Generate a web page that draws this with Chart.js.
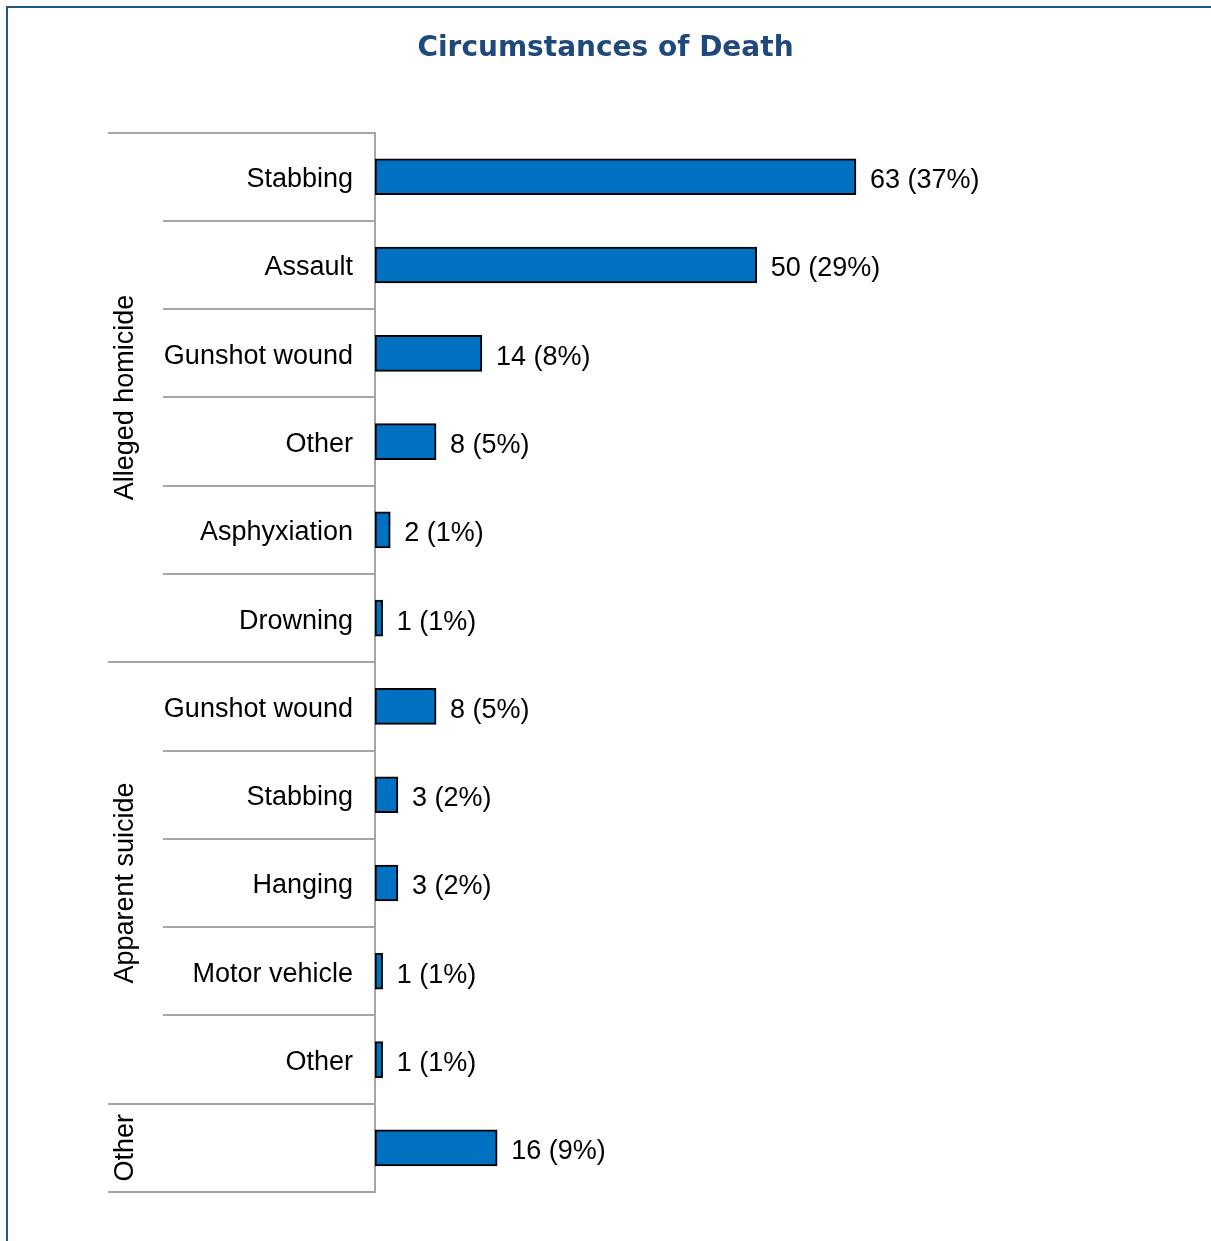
<!DOCTYPE html>
<html>
<head>
<meta charset="utf-8">
<script src="https://cdn.jsdelivr.net/npm/chart.js@4.4.1/dist/chart.umd.min.js"></script>
<style>
  html, body { margin: 0; padding: 0; background: #fff; }
  #frame { position: absolute; left: 6px; top: 6px; width: 1300px; height: 1300px; border-top: 2px solid #1d5a7e; border-left: 2px solid #1d5a7e; }
  #wrap { position: absolute; left: 0; top: 0; width: 1211px; height: 1241px; }
</style>
</head>
<body>
<div id="frame"></div>
<div id="wrap"><canvas id="chart"></canvas></div>
<script>
const categories = ['Stabbing', 'Assault', 'Gunshot wound', 'Other', 'Asphyxiation', 'Drowning',
                    'Gunshot wound', 'Stabbing', 'Hanging', 'Motor vehicle', 'Other', ''];
const counts = [63, 50, 14, 8, 2, 1, 8, 3, 3, 1, 1, 16];
const percents = [37, 29, 8, 5, 1, 1, 5, 2, 2, 1, 1, 9];
const groupNames = ['Alleged homicide', 'Apparent suicide', 'Other'];
const groupSizes = [6, 5, 1];

const labelFont = '27px "Liberation Sans", Arial, sans-serif';

// left-side category separators + rotated group names
const groupPlugin = {
    id: 'groups',
    afterDraw(chart) {
        const { ctx, chartArea } = chart;
        const y = chart.scales.y;
        const half = (y.getPixelForValue(1) - y.getPixelForValue(0)) / 2;
        const groupEnds = [];
        let acc = 0;
        groupSizes.forEach(n => { acc += n; groupEnds.push(acc); });

        ctx.save();
        ctx.strokeStyle = '#a6a6a6';
        ctx.lineWidth = 2;
        for (let i = 0; i <= categories.length; i++) {
            const py = Math.round(y.getPixelForValue(i) - half);
            const isGroup = i === 0 || groupEnds.includes(i);
            ctx.beginPath();
            ctx.moveTo(isGroup ? 108 : 163, py);
            ctx.lineTo(chartArea.left, py);
            ctx.stroke();
        }

        ctx.fillStyle = '#000';
        ctx.font = labelFont;
        ctx.textAlign = 'center';
        ctx.textBaseline = 'middle';
        let start = 0;
        groupNames.forEach((name, g) => {
            const end = start + groupSizes[g];
            const top = y.getPixelForValue(start) - half;
            const bottom = y.getPixelForValue(end - 1) + half;
            ctx.save();
            ctx.translate(126, (top + bottom) / 2);
            ctx.rotate(-Math.PI / 2);
            ctx.fillText(name, 0, 0);
            ctx.restore();
            start = end;
        });
        ctx.restore();
    }
};

// "n (p%)" labels at the end of each bar
const valueLabels = {
    id: 'valueLabels',
    afterDatasetsDraw(chart) {
        const { ctx } = chart;
        const meta = chart.getDatasetMeta(0);
        ctx.save();
        ctx.fillStyle = '#000';
        ctx.font = labelFont;
        ctx.textAlign = 'left';
        ctx.textBaseline = 'middle';
        meta.data.forEach((bar, i) => {
            ctx.fillText(counts[i] + ' (' + percents[i] + '%)', bar.x + 14, bar.y + 4);
        });
        ctx.restore();
    }
};

new Chart(document.getElementById('chart'), {
    type: 'bar',
    data: {
        labels: categories,
        datasets: [{
            data: counts,
            backgroundColor: '#0070c0',
            borderColor: '#000',
            borderWidth: 2,
            borderSkipped: false,
            barThickness: 36
        }]
    },
    options: {
        indexAxis: 'y',
        responsive: true,
        maintainAspectRatio: false,
        animation: false,
        layout: { padding: { left: 0, right: 0, top: 0, bottom: 49 } },
        plugins: {
            legend: { display: false },
            tooltip: { enabled: false },
            title: {
                display: true,
                text: 'Circumstances of Death',
                color: '#1f497d',
                font: { family: '"DejaVu Sans", sans-serif', size: 28, weight: 'bold', lineHeight: 1.2 },
                padding: { top: 32, bottom: 67 }
            }
        },
        scales: {
            x: { display: false, min: 0, max: 109.5 },
            y: {
                grid: { display: false, drawTicks: false },
                border: { display: true, color: '#a6a6a6', width: 2 },
                ticks: {
                    color: '#000',
                    font: { family: '"Liberation Sans", Arial, sans-serif', size: 27 },
                    padding: 22,
                    labelOffset: 3
                },
                afterFit(scale) { scale.width = 375; }
            }
        }
    },
    plugins: [groupPlugin, valueLabels]
});
</script>
</body>
</html>
